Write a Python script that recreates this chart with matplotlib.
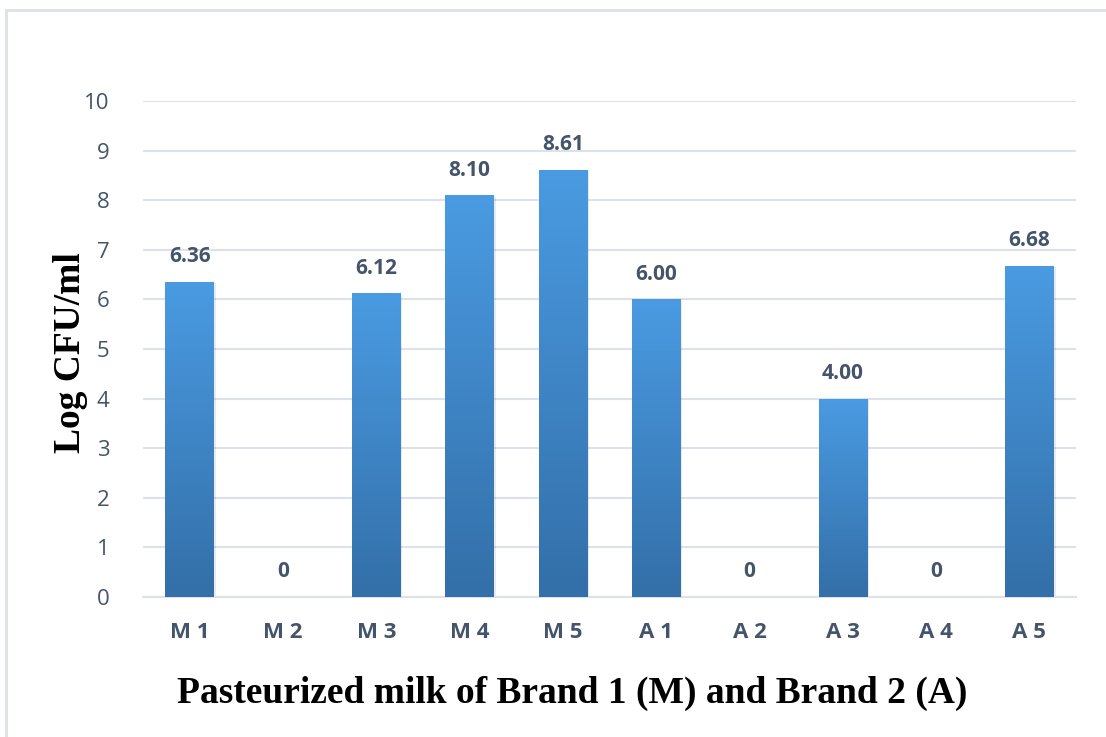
import numpy as np
import matplotlib
matplotlib.use("Agg")
import matplotlib.pyplot as plt
from matplotlib.colors import LinearSegmentedColormap
from matplotlib.lines import Line2D

# Data
samples = ["M 1", "M 2", "M 3", "M 4", "M 5", "A 1", "A 2", "A 3", "A 4", "A 5"]
log_cfu = [6.36, 0, 6.12, 8.10, 8.61, 6.00, 0, 4.00, 0, 6.68]
value_labels = ["6.36", "0", "6.12", "8.10", "8.61", "6.00", "0", "4.00", "0", "6.68"]
y_ticks = list(range(0, 11))

text_color = "#44546A"
grid_color = "#DDE1E8"

fig = plt.figure(figsize=(11.06, 7.37), dpi=100)
fig.patch.set_facecolor("white")
ax = fig.add_axes([0.1293, 0.19, 0.9729 - 0.1293, 0.863 - 0.19])

x = np.arange(len(samples))
bars = ax.bar(x, log_cfu, width=0.52, color="none", edgecolor="none", zorder=3)

# vertical gradient fill for each bar
cmap = LinearSegmentedColormap.from_list("blue_grad", ["#336FA8", "#4A9BE2"])
grad = np.linspace(0, 1, 256).reshape(-1, 1)
for b in bars:
    h = b.get_height()
    if h <= 0:
        continue
    x0 = b.get_x()
    w = b.get_width()
    # soft shadow
    ax.bar(x0 + w / 2 + 0.02, h, width=w, bottom=-0.03, color="#000000",
           alpha=0.08, zorder=2, edgecolor="none")
    im = ax.imshow(grad, cmap=cmap, aspect="auto", origin="lower",
                   extent=[x0, x0 + w, 0, h], zorder=3)
    im.set_clip_path(b)

for xi, v, lab in zip(x, log_cfu, value_labels):
    ax.annotate(lab, (xi, v), xytext=(0, 18), textcoords="offset points",
                ha="center", va="center", fontsize=15, fontweight="bold",
                family="Open Sans", color=text_color, zorder=4)

ax.set_xlim(-0.5, len(samples) - 0.5)
ax.set_ylim(0, 10)
ax.set_yticks(y_ticks)
ax.set_xticks(x)
ax.set_xticklabels(samples, fontsize=16, fontweight="bold", family="Open Sans",
                   color=text_color)
ax.set_yticklabels([str(t) for t in y_ticks], fontsize=16, family="Open Sans",
                   color=text_color)
ax.tick_params(axis="both", length=0)
ax.tick_params(axis="y", pad=24)
ax.tick_params(axis="x", pad=18)

ax.grid(axis="y", color=grid_color, linewidth=1.5, zorder=0)
ax.set_axisbelow(True)
for s in ["top", "right", "left"]:
    ax.spines[s].set_visible(False)
ax.spines["bottom"].set_color(grid_color)
ax.spines["bottom"].set_linewidth(1.5)

fig.text(70 / 1106, 1 - 353 / 737, "Log CFU/ml", rotation=90, fontsize=27,
         fontweight="bold", family="Liberation Serif", color="black",
         ha="center", va="center")
fig.text(572 / 1106, 1 - 693 / 737,
         "Pasteurized milk of Brand 1 (M) and Brand 2 (A)", fontsize=27,
         fontweight="bold", family="Liberation Serif", color="black",
         ha="center", va="center")

# outer frame (top and left edges visible)
fig.add_artist(Line2D([6 / 1106, 1.0], [1 - 10 / 737, 1 - 10 / 737],
                      transform=fig.transFigure, color=grid_color, linewidth=2))
fig.add_artist(Line2D([6 / 1106, 6 / 1106], [0, 1 - 10 / 737],
                      transform=fig.transFigure, color=grid_color, linewidth=2))

fig.savefig("out.png", dpi=100, facecolor="white")
